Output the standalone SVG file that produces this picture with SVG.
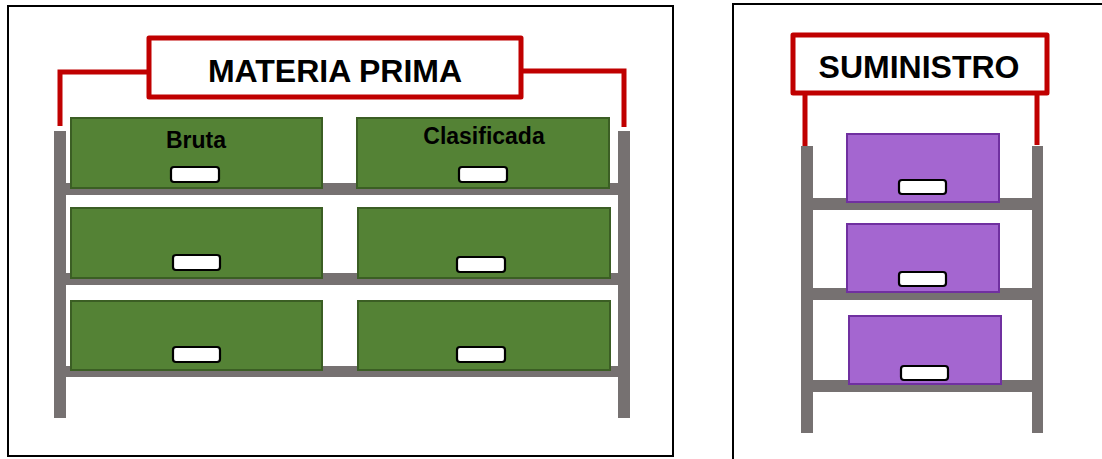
<svg xmlns="http://www.w3.org/2000/svg" width="1102" height="459" viewBox="0 0 1102 459">
<style>
.frame{fill:#fff;stroke:#000;stroke-width:2}
.post{fill:#767171}
.green{fill:#548235;stroke:#3B5E24;stroke-width:2}
.purple{fill:#A466D0;stroke:#7030A0;stroke-width:2}
.handle{fill:#fff;stroke:#000;stroke-width:2.2}
.label{fill:#fff;stroke:#C00000;stroke-width:5;stroke-linejoin:round}
.red{fill:none;stroke:#C00000;stroke-width:5}
.t{font-family:"Liberation Sans",Arial,sans-serif;font-weight:bold;fill:#000;text-anchor:middle}
</style>
<rect width="1102" height="459" fill="#fff"/>
<g id="frame-left"><rect class="frame" x="8" y="6" width="665" height="450"/></g>
<g id="frame-right"><rect class="frame" x="733" y="4" width="400" height="470"/></g>

<g id="shelf-materia">
<rect class="post" x="54" y="131" width="12" height="287"/>
<rect class="post" x="618" y="131" width="12" height="287"/>
<rect class="post" x="54" y="183" width="576" height="12"/>
<rect class="post" x="54" y="273" width="576" height="12"/>
<rect class="post" x="54" y="366" width="576" height="11"/>
</g>
<g id="box-bruta">
<rect class="green" x="71" y="118" width="251" height="70"/>
<rect class="handle" x="171" y="167" width="48" height="15" rx="3"/>
<text class="t" x="196" y="148" font-size="23">Bruta</text>
</g>
<g id="box-clasificada">
<rect class="green" x="357" y="118" width="252" height="70"/>
<rect class="handle" x="459" y="167" width="48" height="15" rx="3"/>
<text class="t" x="484" y="144" font-size="23">Clasificada</text>
</g>
<g id="box-l2">
<rect class="green" x="71" y="208" width="251" height="70"/>
<rect class="handle" x="173" y="255" width="47" height="15" rx="3"/>
</g>
<g id="box-r2">
<rect class="green" x="358" y="208" width="252" height="70"/>
<rect class="handle" x="457" y="257" width="48" height="15" rx="3"/>
</g>
<g id="box-l3">
<rect class="green" x="71" y="301" width="251" height="69"/>
<rect class="handle" x="173" y="347" width="47" height="15" rx="3"/>
</g>
<g id="box-r3">
<rect class="green" x="358" y="301" width="252" height="69"/>
<rect class="handle" x="457" y="347" width="48" height="15" rx="3"/>
</g>

<g id="connectors">
<polyline class="red" points="60,126 60,72 148,72"/>
<polyline class="red" points="522,71 624,71 624,127"/>
<line class="red" x1="805" y1="93" x2="805" y2="148"/>
<line class="red" x1="1037" y1="93" x2="1037" y2="145"/>
</g>

<g id="label-materia">
<rect class="label" x="149" y="38" width="372" height="59"/>
<text class="t" x="335" y="82" font-size="32">MATERIA PRIMA</text>
</g>

<g id="shelf-suministro">
<rect class="post" x="801" y="146" width="12" height="287"/>
<rect class="post" x="1032" y="146" width="11" height="287"/>
<rect class="post" x="801" y="198" width="242" height="12"/>
<rect class="post" x="801" y="288" width="242" height="12"/>
<rect class="post" x="801" y="380" width="242" height="12"/>
</g>
<g id="box-s1">
<rect class="purple" x="847" y="134" width="152" height="68"/>
<rect class="handle" x="899" y="180" width="47" height="14" rx="3"/>
</g>
<g id="box-s2">
<rect class="purple" x="847" y="224" width="152" height="68"/>
<rect class="handle" x="899" y="272" width="47" height="14" rx="3"/>
</g>
<g id="box-s3">
<rect class="purple" x="849" y="316" width="152" height="68"/>
<rect class="handle" x="901" y="366" width="47" height="14" rx="3"/>
</g>

<g id="label-suministro">
<rect class="label" x="793" y="35" width="254" height="58"/>
<text class="t" x="919" y="78" font-size="32">SUMINISTRO</text>
</g>
</svg>
